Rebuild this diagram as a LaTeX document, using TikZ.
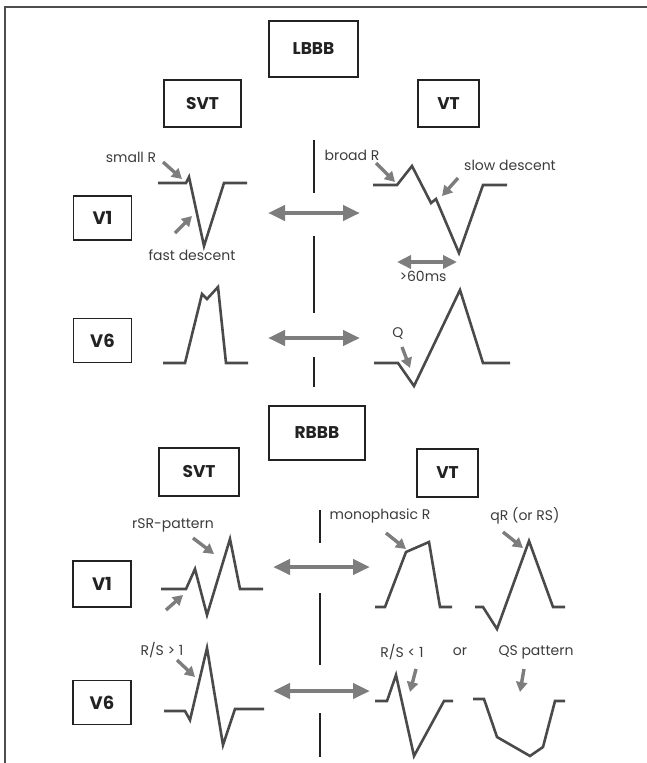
\documentclass[tikz,border=0pt]{standalone}
\usepackage{fontspec}
\setmainfont{Poppins}
\usetikzlibrary{arrows.meta, positioning}
\definecolor{InkDark}{HTML}{222222}
\definecolor{TraceGray}{HTML}{4A4A4A}
\definecolor{ArrowGray}{HTML}{7D7D7D}
\definecolor{LabelGray}{HTML}{3C3C3C}

\begin{document}
\begin{tikzpicture}[x=1pt, y=-1pt,
    every node/.style={font=\fontsize{14}{16}\selectfont, text=LabelGray, inner sep=0pt},
    header/.style={draw=InkDark, line width=2.6pt, font=\fontsize{17}{19}\selectfont\bfseries, text=InkDark},
    lead/.style={draw=InkDark, line width=1.6pt, minimum width=58pt, minimum height=44pt, font=\fontsize{18}{20}\selectfont\bfseries, text=InkDark},
    trace/.style={draw=TraceGray, line width=2.6pt},
    pointer/.style={draw=ArrowGray, line width=3.4pt, -{Triangle[length=10pt, width=11pt]}},
    bothway/.style={draw=ArrowGray, line width=4.5pt, {Triangle[length=17pt, width=15pt]}-{Triangle[length=17pt, width=15pt]}},
    divider/.style={draw=InkDark, line width=2.6pt}]
    \useasboundingbox (0,0) rectangle (647,763);
    \draw[line width=1.8pt, draw=InkDark!80] (5,763) -- (5,7) -- (647,7);

    % LBBB half
    \node[header, minimum width=89pt, minimum height=56pt] (lbbb) at (313.5,49) {LBBB};
    \node[header, minimum width=77pt, minimum height=47pt] (svtL) at (202.5,103.5) {SVT};
    \node[header, minimum width=61pt, minimum height=47pt] (vtL) at (448.5,103.5) {VT};
    \node[lead] (v1L) at (102.5,218) {V1};
    \node[lead, below=77pt of v1L] (v6L) {V6};

    \node (smallR) at (131,157) {small R};
    \node (fastdesc) at (192,255) {fast descent};
    \node (broadR) at (352,155) {broad R};
    \node (slowdesc) at (510,165) {slow descent};
    \node (sixty) at (423,276) {>60ms};
    \node (qwave) at (398,333) {Q};

    \draw[divider] (314,140) -- (314,193) (314,236) -- (314,313) (314,357) -- (314,387);

    \draw[trace] (158,183) -- (186,183) -- (189,177) -- (204,246) -- (224,183) -- (247,183);
    \draw[trace] (373,185) -- (397,185) -- (412,166) -- (431,203) -- (436,199) -- (459,253) -- (483,185) -- (507,185);
    \draw[trace] (163,363) -- (185,363) -- (202,294) -- (207,299) -- (218,287) -- (226,363) -- (248,363);
    \draw[trace] (374,363) -- (398,363) -- (414,386) -- (460,290) -- (483,363) -- (510,363);

    % Arrows
    \coordinate (a1) at (163,162); \coordinate (b1) at (182,179);
    \coordinate (a2) at (175,233); \coordinate (b2) at (192,216);
    \coordinate (a3) at (376,163); \coordinate (b3) at (395,182);
    \coordinate (a4) at (458,178); \coordinate (b4) at (442,196);
    \coordinate (a5) at (402,347); \coordinate (b5) at (410,368);
    \coordinate (s1) at (397,262); \coordinate (t1) at (457,262);
    \coordinate (s2) at (268,213); \coordinate (t2) at (360,213);
    \coordinate (s3) at (268,338); \coordinate (t3) at (360,338);
    \draw[pointer] (a1) -- (b1);
    \draw[pointer] (a2) -- (b2);
    \draw[pointer] (a3) -- (b3);
    \draw[pointer] (a4) -- (b4);
    \draw[pointer] (a5) -- (b5);
    \draw[bothway, line width=4pt, {Triangle[length=14pt, width=13pt]}-{Triangle[length=14pt, width=13pt]}] (s1) -- (t1);
    \draw[bothway] (s2) -- (t2);
    \draw[bothway] (s3) -- (t3);

    % RBBB half
    \node[header, minimum width=96pt, minimum height=54pt] (rbbb) at (317,433) {RBBB};
    \node[header, minimum width=80pt, minimum height=48pt] (svtR) at (199,472) {SVT};
    \node[header, minimum width=61pt, minimum height=48pt] (vtR) at (447.5,473) {VT};
    \node[lead, minimum height=46pt] (v1R) at (102,584) {V1};
    \node[lead, below=72pt of v1R] (v6R) {V6};

    \node (rsr) at (173,525) {rSR-pattern};
    \node (mono) at (380,516) {monophasic R};
    \node (qr) at (525,516) {qR (or RS)};
    \node (rsgt) at (162,650) {R/S > 1};
    \node (rslt) at (402,652) {R/S < 1};
    \node (orword) at (460,652) {or};
    \node (qs) at (536,652) {QS pattern};

    \draw[divider] (320,510) -- (320,543) (320,593) -- (320,665) (320,713) -- (320,757);

    \draw[trace] (161,589) -- (186,589) -- (195,569) -- (207,615) -- (230,539) -- (240,589) -- (263,589);
    \draw[trace] (375,607) -- (385,607) -- (406,552) -- (429,542) -- (440,607) -- (452,607);
    \draw[trace] (475,607) -- (483,607) -- (497,629) -- (529,541) -- (553,607) -- (565,607);
    \draw[trace] (164,711) -- (185,711) -- (190,720) -- (207,648) -- (223,745) -- (235,709) -- (264,709);
    \draw[trace] (375,701) -- (387,701) -- (396,675) -- (414,756) -- (444,701) -- (453,701);
    \draw[trace] (473,699) -- (484,699) -- (497,737) -- (530,756) -- (543,747) -- (555,701) -- (565,701);

    % Arrows
    \coordinate (c1) at (193,538); \coordinate (d1) at (214,554);
    \coordinate (c2) at (166,610); \coordinate (d2) at (183,595);
    \coordinate (c3) at (386,533); \coordinate (d3) at (406,549);
    \coordinate (c4) at (503,532); \coordinate (d4) at (523,548);
    \coordinate (c5) at (177,660); \coordinate (d5) at (195,677);
    \coordinate (c6) at (416,669); \coordinate (d6) at (410,692);
    \coordinate (c7) at (524,669); \coordinate (d7) at (520,692);
    \coordinate (u1) at (273,567); \coordinate (w1) at (370,567);
    \coordinate (u2) at (273,691); \coordinate (w2) at (370,691);
    \draw[pointer] (c1) -- (d1);
    \draw[pointer] (c2) -- (d2);
    \draw[pointer] (c3) -- (d3);
    \draw[pointer] (c4) -- (d4);
    \draw[pointer] (c5) -- (d5);
    \draw[pointer] (c6) -- (d6);
    \draw[pointer] (c7) -- (d7);
    \draw[bothway] (u1) -- (w1);
    \draw[bothway] (u2) -- (w2);
\end{tikzpicture}
\end{document}
